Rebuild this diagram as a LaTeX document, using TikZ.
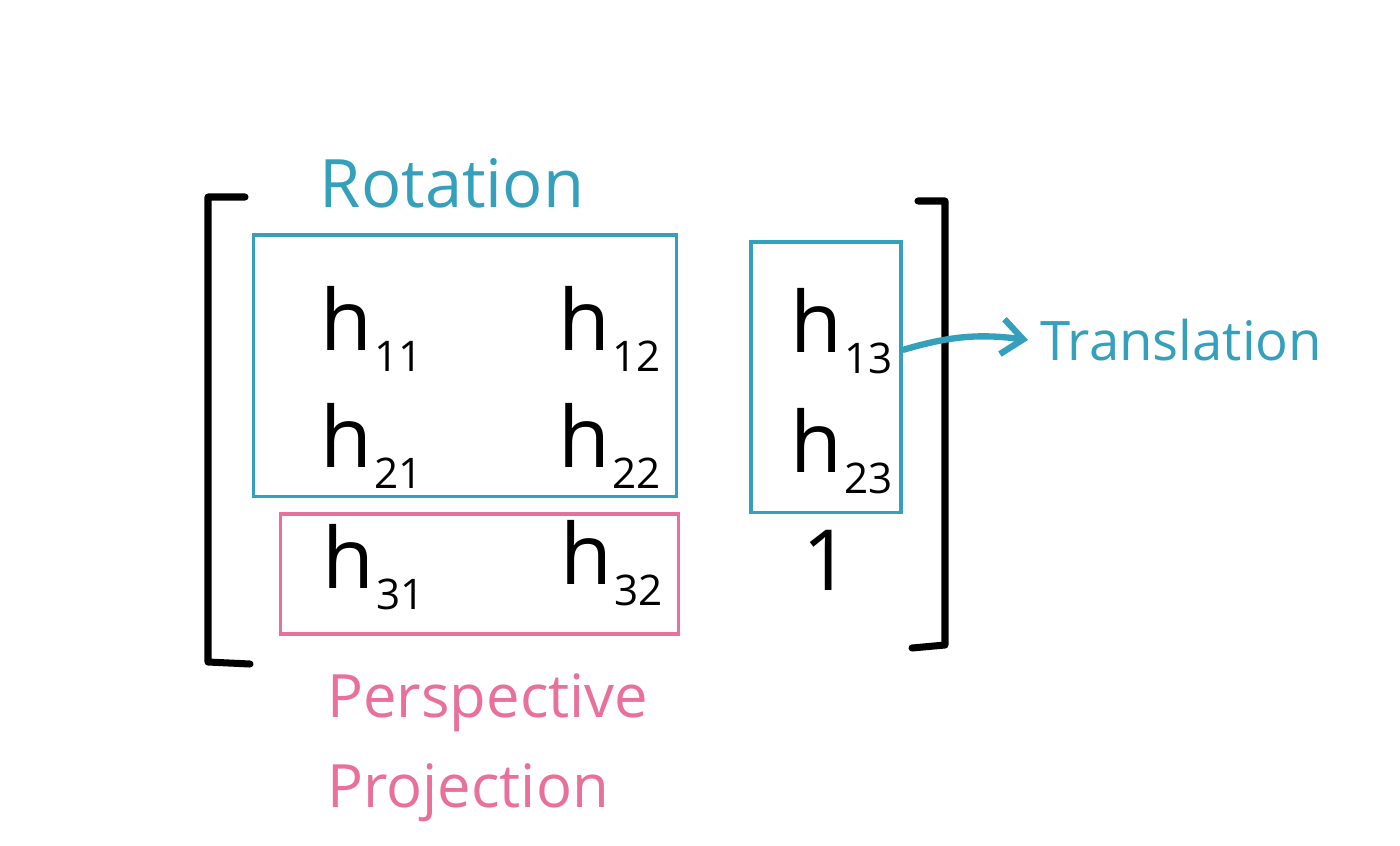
\documentclass[tikz,border=0pt]{standalone}
\usepackage{fontspec}
\setmainfont{Open Sans}
\usepackage{xcolor}
\usepackage{tikz}
\usetikzlibrary{calc}
\usetikzlibrary{arrows.meta}
\definecolor{rotblue}{RGB}{52,160,188}
\definecolor{perspink}{RGB}{232,112,155}
\newcommand\hentry[1]{%
	h\kern0.5pt\raisebox{-6pt}{\fontsize{12}{12}\selectfont #1}}

\begin{document}
\begin{tikzpicture}[x=0.01cm,y=-0.01cm,
	bracket/.style={line width=2pt,line cap=round,line join=round},
	blockbox/.style={draw,line width=0.9pt,inner sep=0pt},
	lbl/.style={font=\fontsize{17}{20}\selectfont},
	elem/.style={font=\fontsize{24}{26}\selectfont,anchor=base west,inner sep=0pt}]
\useasboundingbox (0,0) rectangle (1400,845);

% brackets
\draw[bracket] (245,197) -- (208,197) -- (208,662) -- (250,664);
\draw[bracket] (918,201) -- (945,201) -- (945,645) -- (912,648);

% blocks
\node[blockbox,draw=rotblue,minimum width=4.22cm,minimum height=2.61cm] (rbox) at (465,365.5) {};
\node[blockbox,draw=rotblue,minimum width=1.5cm,minimum height=2.7cm] (tbox) at (826,377) {};
\node[blockbox,draw=perspink,minimum width=3.97cm,minimum height=1.2cm] (pbox) at (479.5,574) {};

% labels
\node[lbl,text=rotblue,font=\fontsize{19}{22}\selectfont] (rot) at (452,183) {Rotation};
\node[lbl,text=rotblue,anchor=west,font=\fontsize{15.5}{18}\selectfont] (trans) at (1028,340) {Translation};
\node[lbl,text=perspink,anchor=west] (persp) at (315,703) {Perspective};
\node[lbl,text=perspink,anchor=west] (proj) at (315,793) {Projection};
\draw[rotblue,line width=1.8pt,-{Straight Barb[length=6pt,width=10pt]}]
	([yshift=0.27cm]tbox.east) to[bend left=12] (trans.west);

% entries
\node[elem] (h11) at (320,350) {\hentry{11}};
\node[elem] (h12) at (558,350) {\hentry{12}};
\node[elem] (h13) at (790,352) {\hentry{13}};
\node[elem] (h21) at (320,467) {\hentry{21}};
\node[elem] (h22) at (558,467) {\hentry{22}};
\node[elem] (h23) at (790,472) {\hentry{23}};
\node[elem] (h31) at (322,588) {\hentry{31}};
\node[elem] (h32) at (560,584) {\hentry{32}};
\node[elem] (one) at (802,590) {1};
\end{tikzpicture}
\end{document}
